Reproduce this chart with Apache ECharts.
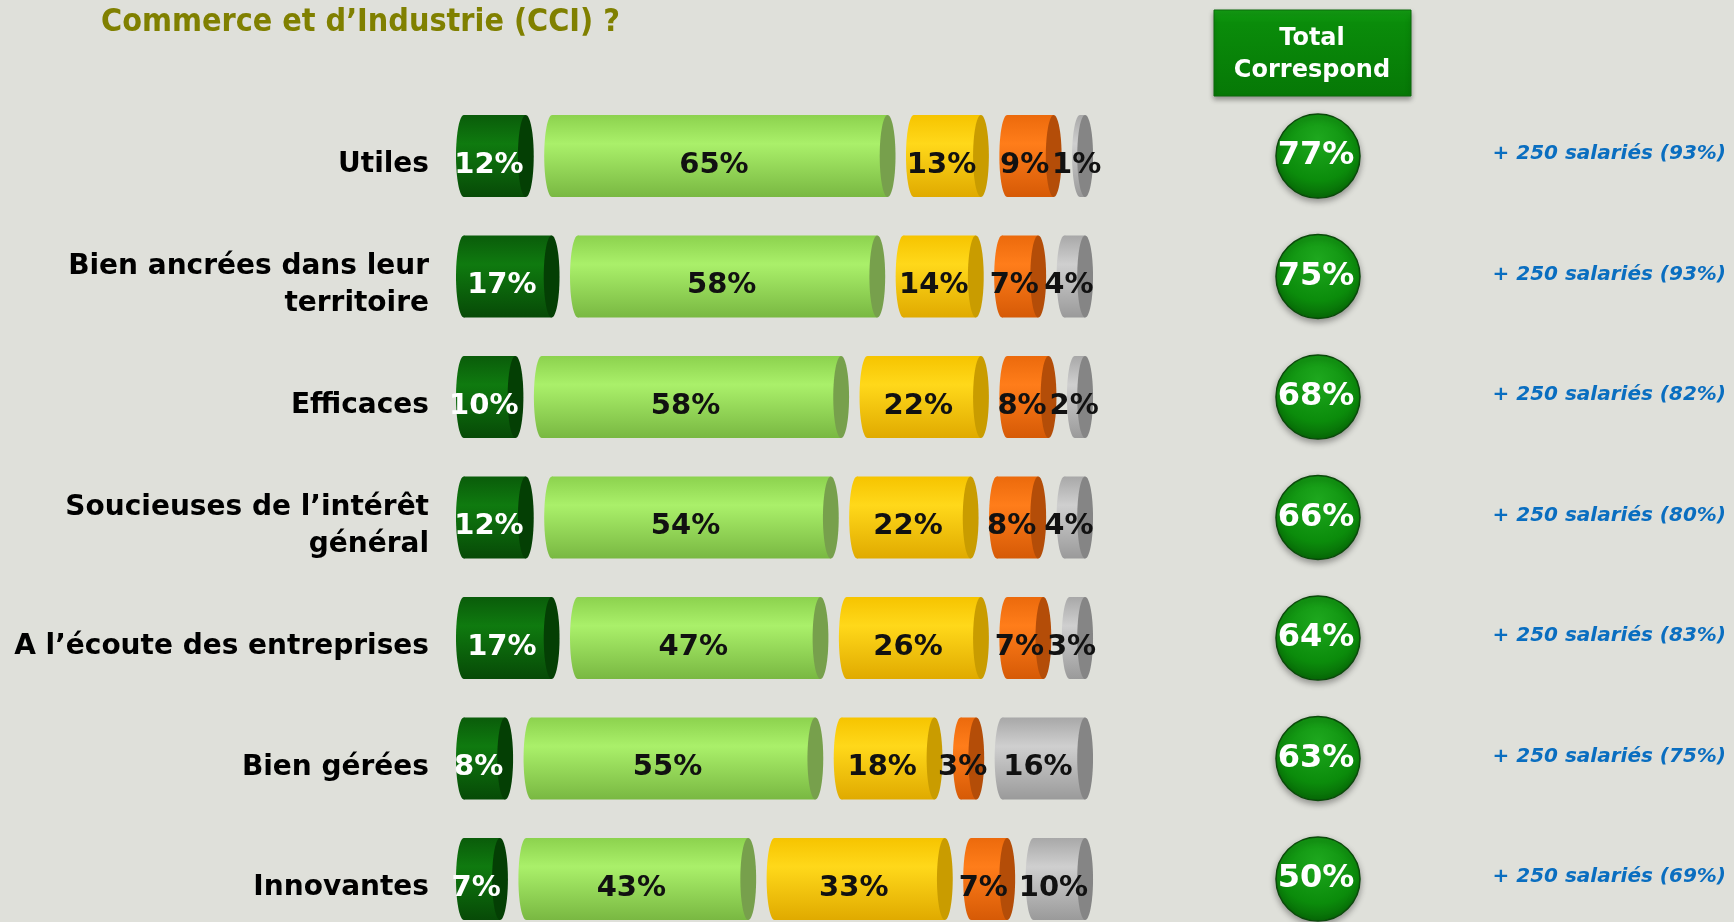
<!DOCTYPE html>
<html>
<head>
<meta charset="utf-8">
<script src="https://cdn.jsdelivr.net/npm/echarts@6/dist/echarts.min.js"></script>
<style>
  html, body { margin: 0; padding: 0; background: #dfe0da; }
  #chart { width: 1734px; height: 922px; }
</style>
</head>
<body>
<div id="chart"></div>
<script>
// categories (rows, top to bottom)
var categories = [
  'Utiles',
  'Bien ancrées dans leur\nterritoire',
  'Efficaces',
  'Soucieuses de l\u2019intérêt\ngénéral',
  'A l\u2019écoute des entreprises',
  'Bien gérées',
  'Innovantes'
];
// answer levels, left to right
var levelNames = ['Correspond tout à fait', 'Correspond plutôt', 'Ne correspond plutôt pas', 'Ne correspond pas du tout', 'Ne sait pas'];
var toutAFait = [12, 17, 10, 12, 17, 8, 7];
var plutot = [65, 58, 58, 54, 47, 55, 43];
var plutotPas = [13, 14, 22, 22, 26, 18, 33];
var pasDuTout = [9, 7, 8, 8, 7, 3, 7];
var nsp = [1, 4, 2, 4, 3, 16, 10];
var totalCorrespond = [77, 75, 68, 66, 64, 63, 50];
var plus250 = [93, 93, 82, 80, 83, 75, 69];

var levels = [toutAFait, plutot, plutotPas, pasDuTout, nsp];

// cylinder look, one entry per level
var styles = [
  {top: '#0a5c0a', mid: '#0f7a0f', bot: '#074a07', cap: '#043f04', text: '#ffffff'},
  {top: '#8cd24e', mid: '#aaf06a', bot: '#79b842', cap: '#77a04c', text: '#111111'},
  {top: '#f6c400', mid: '#ffd81a', bot: '#e0aa00', cap: '#c99c00', text: '#111111'},
  {top: '#ec6a0c', mid: '#ff7d1a', bot: '#d65a06', cap: '#b44d08', text: '#111111'},
  {top: '#a8a8a8', mid: '#cfcfcf', bot: '#9a9a9a', cap: '#858585', text: '#111111'}
];
var CAP = 3.06;   // cylinder end, in % units
var GAP = 2.03;   // space between cylinders, in % units

function grad(s) {
  return new echarts.graphic.LinearGradient(0, 0, 0, 1, [
    {offset: 0, color: s.top},
    {offset: 0.35, color: s.mid},
    {offset: 1, color: s.bot}
  ]);
}

var series = [];
levels.forEach(function (vals, j) {
  var data = vals.map(function (v, i) {
    var start = 0;
    for (var m = 0; m < j; m++) start += levels[m][i] + CAP + GAP;
    return [start, v, i];
  });
  var st = styles[j];
  series.push({
    name: levelNames[j],
    type: 'custom',
    encode: {x: [0, 1], y: 2},
    data: data,
    renderItem: function (params, api) {
      var s = api.value(0), v = api.value(1), row = api.value(2);
      var pL = api.coord([s, row]);
      var pR = api.coord([s + v + CAP, row]);
      var h = 82;
      var rx = (api.size([CAP, 0])[0]) / 2;
      var cy = pL[1];
      var x0 = pL[0] + rx, x1 = pR[0] - rx;
      return {
        type: 'group',
        children: [
          {type: 'ellipse', shape: {cx: x0, cy: cy, rx: rx, ry: h / 2}, style: {fill: grad(st)}},
          {type: 'rect', shape: {x: x0, y: cy - h / 2, width: Math.max(x1 - x0, 0), height: h}, style: {fill: grad(st)}},
          {type: 'ellipse', shape: {cx: x1, cy: cy, rx: rx, ry: h / 2}, style: {fill: st.cap}},
          {type: 'text', z2: 100, x: (pL[0] + pR[0]) / 2 - rx + 2, y: cy + 9,
            style: {text: v + '%', fill: st.text, font: 'bold 29px "DejaVu Sans"', align: 'center', verticalAlign: 'middle'}}
        ]
      };
    }
  });
});

// Total Correspond bubbles
series.push({
  name: 'Total Correspond',
  type: 'custom',
  encode: {y: 0},
  data: totalCorrespond.map(function (v, i) { return [i, v]; }),
  renderItem: function (params, api) {
    var row = api.value(0), v = api.value(1);
    var cy = api.coord([0, row])[1];
    var cx = 1318;
    return {
      type: 'group',
      children: [
        {type: 'circle', shape: {cx: cx, cy: cy, r: 42},
          style: {
            fill: new echarts.graphic.RadialGradient(0.5, 0.3, 0.75, [
              {offset: 0, color: '#1ea81e'},
              {offset: 0.65, color: '#0b8c0b'},
              {offset: 1, color: '#065e06'}
            ]),
            stroke: '#0a4a0a', lineWidth: 1.5,
            shadowBlur: 6, shadowOffsetY: 3, shadowColor: 'rgba(0,0,0,0.35)'
          }},
        {type: 'text', z2: 100, x: cx - 2, y: cy,
          style: {text: v + '%', fill: '#ffffff', font: 'bold 32px "DejaVu Sans"', align: 'center', verticalAlign: 'middle'}}
      ]
    };
  }
});

// + 250 salariés
series.push({
  name: '+ 250 salariés',
  type: 'custom',
  encode: {y: 0},
  data: plus250.map(function (v, i) { return [i, v]; }),
  renderItem: function (params, api) {
    var row = api.value(0), v = api.value(1);
    var cy = api.coord([0, row])[1];
    return {
      type: 'text', x: 1726, y: cy - 2,
      style: {text: '+ 250 salariés (' + v + '%)', fill: '#0a6ec0',
        font: 'italic bold 20px "DejaVu Sans"', align: 'right', verticalAlign: 'middle'}
    };
  }
});

var option = {
  backgroundColor: '#dfe0da',
  animation: false,
  title: {
    text: 'Commerce et d\u2019Industrie (CCI) ?',
    left: 96, top: 2,
    textStyle: {color: '#808000', fontSize: 32, fontWeight: 'bold', fontFamily: 'DejaVu Sans Condensed'}
  },
  grid: {left: 456, top: 156, width: 671, height: 723},
  xAxis: {type: 'value', min: 0, max: 130, show: false},
  yAxis: {
    type: 'category',
    data: categories,
    inverse: true,
    boundaryGap: false,
    axisLine: {show: false},
    axisTick: {show: false},
    splitLine: {show: false},
    axisLabel: {
      margin: 27,
      align: 'right',
      // a thin empty first line pushes the label slightly below the bar axis
      formatter: function (v) {
        return '{s| }\n' + v.split('\n').map(function (l) { return '{l|' + l + '}'; }).join('\n');
      },
      rich: {
        s: {fontSize: 10, lineHeight: 18},
        l: {color: '#000', fontSize: 28, fontWeight: 'bold', fontFamily: 'DejaVu Sans', lineHeight: 37, align: 'right'}
      }
    }
  },
  graphic: [{
    type: 'group',
    children: [
      {type: 'rect', shape: {x: 1214, y: 10, width: 197, height: 86},
        style: {
          fill: new echarts.graphic.LinearGradient(0, 0, 0, 1, [
            {offset: 0, color: '#14a014'},
            {offset: 0.15, color: '#0a8c0a'},
            {offset: 1, color: '#067806'}
          ]),
          stroke: '#0b6a0b', lineWidth: 1,
          shadowBlur: 5, shadowOffsetY: 3, shadowColor: 'rgba(0,0,0,0.35)'
        }},
      {type: 'text', x: 1312, y: 55,
        style: {text: 'Total\nCorrespond', fill: '#fff', font: 'bold 24px "DejaVu Sans"',
          align: 'center', verticalAlign: 'middle', lineHeight: 32}}
    ]
  }],
  series: series
};

var chart = echarts.init(document.getElementById('chart'));
chart.setOption(option);
</script>
</body>
</html>
